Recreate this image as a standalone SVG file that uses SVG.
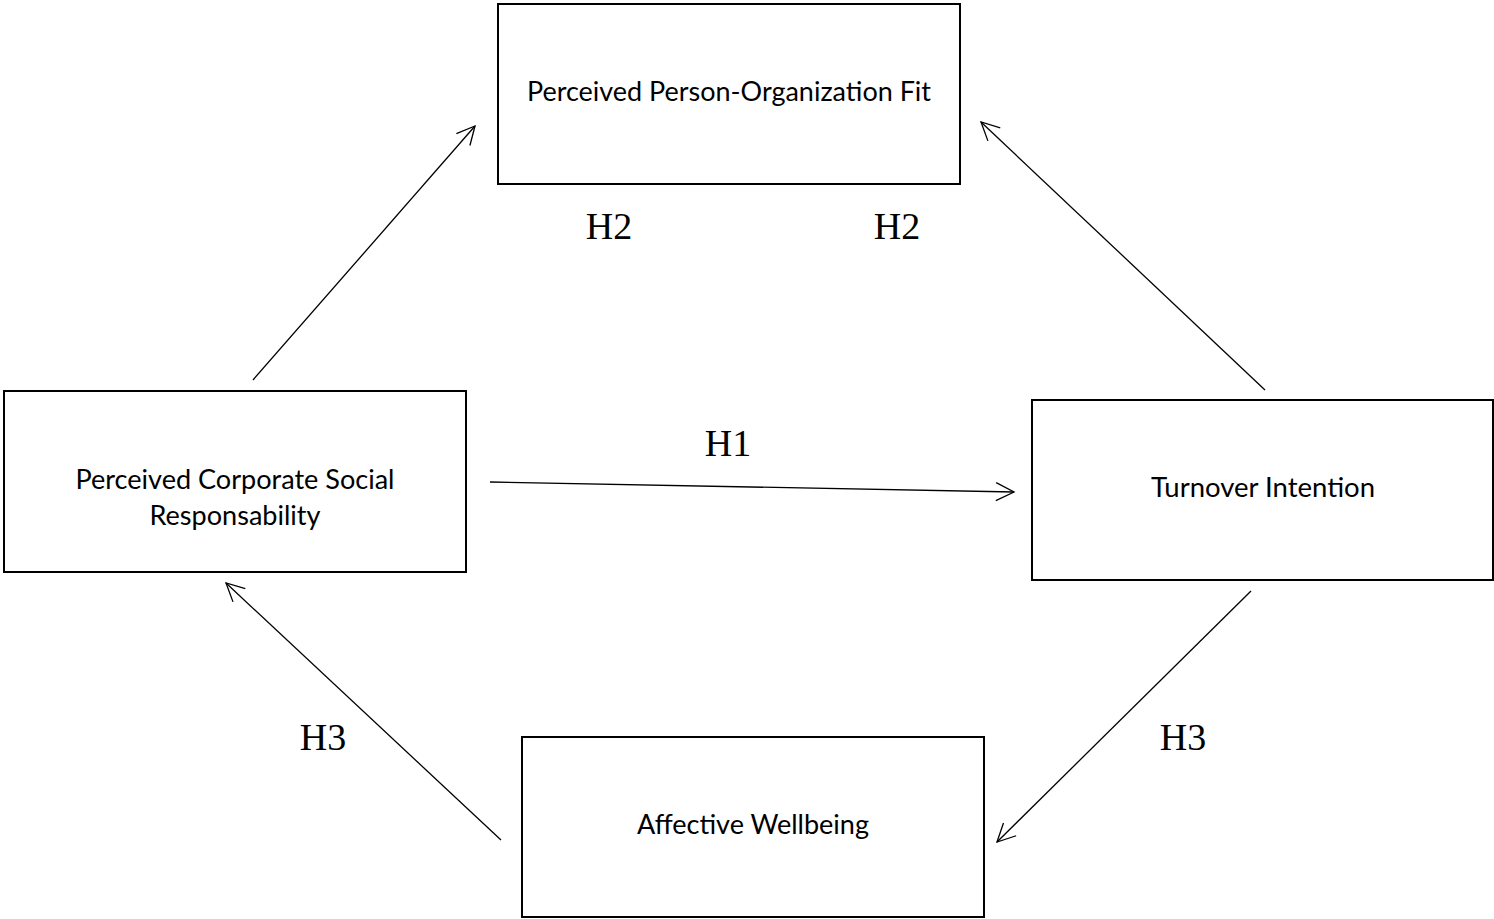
<svg xmlns="http://www.w3.org/2000/svg" width="1494" height="919" viewBox="0 0 1494 919">
<style>
.box{fill:#fff;stroke:#000;stroke-width:2}
.lbl{font-family:Lato,"Open Sans",sans-serif;font-size:26px;fill:#000;text-anchor:middle;dominant-baseline:central}
.h{font-family:"Liberation Serif","DejaVu Serif",serif;font-size:38px;fill:#000;text-anchor:middle}
.c{stroke:#000;stroke-width:1.3;fill:none;marker-end:url(#ah)}
</style>
<defs>
<marker id="ah" markerUnits="userSpaceOnUse" viewBox="-20 -11 22 22" refX="0" refY="0" markerWidth="22" markerHeight="22" orient="auto">
<path d="M-18,-9 L0,0 L-18,9" fill="none" stroke="#000" stroke-width="1.3"/>
</marker>
</defs>
<rect width="1494" height="919" fill="#fff"/>
<g id="connectors">
<line class="c" x1="253" y1="380" x2="475" y2="126"/>
<line class="c" x1="1265" y1="390" x2="981" y2="122"/>
<line class="c" x1="490" y1="482" x2="1014" y2="492"/>
<line class="c" x1="1251" y1="591" x2="997" y2="842"/>
<line class="c" x1="501" y1="840" x2="226" y2="583"/>
</g>
<g id="labels">
<text class="h" x="609" y="239">H2</text>
<text class="h" x="897" y="239">H2</text>
<text class="h" x="728" y="456">H1</text>
<text class="h" x="323" y="750">H3</text>
<text class="h" x="1183" y="750">H3</text>
</g>
<g id="node-pof">
<rect class="box" x="498" y="4" width="462" height="180"/>
<text class="lbl" x="729" y="91" textLength="404" lengthAdjust="spacingAndGlyphs">Perceived Person-Organization Fit</text>
</g>
<g id="node-csr">
<rect class="box" x="4" y="391" width="462" height="181"/>
<text class="lbl" x="235" y="479" textLength="319" lengthAdjust="spacingAndGlyphs">Perceived Corporate Social</text>
<text class="lbl" x="235" y="515" textLength="171" lengthAdjust="spacingAndGlyphs">Responsability</text>
</g>
<g id="node-ti">
<rect class="box" x="1032" y="400" width="461" height="180"/>
<text class="lbl" x="1263" y="487" textLength="224" lengthAdjust="spacingAndGlyphs">Turnover Intention</text>
</g>
<g id="node-aw">
<rect class="box" x="522" y="737" width="462" height="180"/>
<text class="lbl" x="753" y="824" textLength="232" lengthAdjust="spacingAndGlyphs">Affective Wellbeing</text>
</g>
</svg>
